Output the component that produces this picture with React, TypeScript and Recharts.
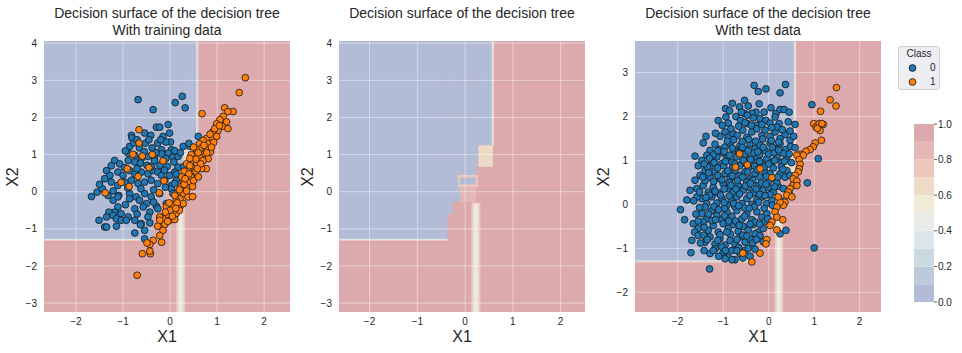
import React from 'react';
import { ScatterChart, Scatter, XAxis, YAxis, ReferenceArea, ReferenceLine, BarChart, Bar } from 'recharts';

// ---------------- data ----------------
const classLabels = ['0', '1'];
const colorbarTicks = [0, 0.2, 0.4, 0.6, 0.8, 1.0];
const colorbarBins = [0.1, 0.1, 0.1, 0.1, 0.1, 0.1, 0.1, 0.1, 0.1, 0.1];

// decision surface: rectangles with predicted probability of class 1
const surfaceCells = [
  { x1: -4, x2: 4, y1: -5, y2: 5, p: 1 },
  { x1: -4, x2: -0.37, y1: -1.3, y2: 5, p: 0 },
  { x1: -0.37, x2: -0.27, y1: -0.6, y2: 5, p: 0 },
  { x1: -0.27, x2: -0.1, y1: -0.27, y2: 5, p: 0 },
  { x1: -0.1, x2: 0.23, y1: 0.45, y2: 5, p: 0 },
  { x1: 0.23, x2: 0.28, y1: 0.67, y2: 5, p: 0 },
  { x1: 0.28, x2: 0.58, y1: 1.25, y2: 5, p: 0 },
  { x1: 0.28, x2: 0.58, y1: 0.67, y2: 1.25, p: 0.65 },
  { x1: -0.15, x2: 0.27, y1: 0.13, y2: 0.45, p: 0.72 },
  { x1: -0.11, x2: 0.22, y1: 0.2, y2: 0.38, p: 0 },
  { x1: -0.1, x2: 0.23, y1: -0.27, y2: 0.13, p: 0.8 },
  { x1: 0.13, x2: 0.32, y1: -5, y2: -0.3, p: 0.75 },
  { x1: 0.16, x2: 0.29, y1: -5, y2: -0.32, p: 0.62 },
  { x1: 0.19, x2: 0.26, y1: -5, y2: -0.35, p: 0.45 },
  { x1: 0.555, x2: 0.58, y1: 1.25, y2: 5, p: 0.3 },
  { x1: 0.58, x2: 0.605, y1: 1.25, y2: 5, p: 0.6 },
  { x1: -4, x2: -0.37, y1: -1.33, y2: -1.3, p: 0.7 },
  { x1: -4, x2: -0.37, y1: -1.3, y2: -1.27, p: 0.3 },
];

const train0 = [
  [-0.68,2.48],[-0.36,2.21],[0.11,2.40],[0.26,2.57],[0.32,2.26],[-0.04,1.81],[-0.29,1.74],[-0.22,1.74],[-0.82,1.52],[-0.81,1.45],[-0.54,1.58],[-0.41,1.52],[-0.15,1.49],[-0.01,1.58],[0.01,1.34],[0.60,1.49],[0.42,1.22],[0.28,1.22],
  [-0.86,1.22],[-0.77,1.31],[-0.65,1.18],[-0.52,1.31],[-0.38,1.18],[-0.26,1.31],[-0.18,1.13],[-0.09,1.34],[0.03,1.13],[-0.04,1.04],
  [-0.89,1.04],[-0.75,0.98],[-0.61,0.89],[-0.47,0.95],[-0.33,0.92],[-0.18,1.02],[-0.09,0.89],[0.06,0.93],[0.17,0.95],
  [-1.18,0.84],[-1.07,0.75],[-0.89,0.84],[-0.75,0.80],[-0.63,0.77],[-0.49,0.71],[-0.33,0.83],[-0.22,0.71],[-0.06,0.68],[0.08,0.80],[0.17,0.66],[0.29,0.68],
  [-1.35,0.57],[-1.28,0.44],[-1.11,0.53],[-1.00,0.44],[-0.86,0.57],[-0.75,0.48],[-0.61,0.53],[-0.47,0.48],[-0.36,0.57],[-0.26,0.53],[-0.18,0.44],[-0.01,0.44],[0.10,0.53],
  [-1.39,0.35],[-1.25,0.26],[-1.11,0.17],[-0.96,0.26],[-0.82,0.31],[-0.68,0.22],[-0.54,0.26],[-0.40,0.31],[-0.26,0.22],[-0.11,0.31],[0.03,0.17],[0.13,0.31],
  [-1.67,-0.13],[-1.55,-0.01],[-1.44,0.08],[-1.32,-0.10],[-1.21,0.02],[-1.09,-0.10],[-0.86,-0.05],[-0.72,-0.14],[-0.54,-0.05],[-0.40,-0.14],[-0.22,-0.05],[0.03,0.08],
  [-1.21,-0.23],[-1.11,-0.14],[-0.86,-0.19],[-0.65,-0.23],[-0.50,-0.32],[-0.29,-0.39],[-0.08,-0.32],
  [-1.11,-0.41],[-1.18,-0.55],[-1.04,-0.59],[-0.75,-0.46],[-0.57,-0.41],[-0.43,-0.55],[-0.26,-0.46],[-0.15,-0.68],
  [-1.30,-0.55],[-1.35,-0.68],[-1.21,-0.64],[-1.14,-0.73],[-1.04,-0.77],[-0.89,-0.68],[-0.75,-0.77],[-0.61,-0.86],[-0.47,-0.68],[-0.43,-0.84],
  [-1.51,-0.77],[-1.39,-0.95],[-1.35,-0.95],[-1.14,-0.93],[-0.93,-0.77],[-0.75,-1.11],[-0.63,-0.89],[-0.54,-1.04],[-0.54,-1.27],[0.13,0.48],[0.10,0.22],[0.06,-0.05],
  [-0.70,1.40],[-0.45,1.40],[-0.20,1.40],[-0.95,1.10],[-0.55,1.08],[-0.30,1.05],[0.10,1.10],[-1.25,0.70],[-0.97,0.65],[-0.70,0.62],[-0.40,0.68],[-0.12,0.58],[-1.50,0.20],[-0.90,0.10],[-0.62,0.08],[-0.35,0.05],[-0.10,0.12],[-0.95,-0.35],[-0.35,-0.28],[-0.70,-0.60],[0.22,1.05],[0.40,1.30],
];

const train1 = [
  [1.60,3.07],[1.47,2.67],[0.68,2.10],[1.16,2.26],[1.34,2.16],[1.23,2.16],
  [1.13,2.03],[1.06,1.94],[0.99,1.83],[1.20,1.88],[1.11,1.76],[1.02,1.65],[1.23,1.70],[0.91,1.61],[0.88,1.47],[0.99,1.49],[0.77,1.43],[0.81,1.29],[0.93,1.33],
  [0.70,1.38],[0.62,1.29],[0.67,1.18],[0.77,1.16],[0.86,1.07],[0.56,1.13],[0.74,1.02],[0.63,0.93],[0.81,0.89],[0.52,0.98],[0.48,0.84],[0.57,0.75],[0.70,0.84],[0.77,0.62],[0.67,0.62],[0.45,0.66],[0.35,0.75],[0.38,0.57],[0.52,0.53],[0.45,0.39],[0.33,0.44],[0.28,0.31],[0.40,0.26],[0.48,0.14],[0.35,0.11],[0.24,0.14],[0.17,-0.01],[0.28,-0.05],[0.38,-0.14],[0.48,-0.13],[0.21,-0.19],[0.13,-0.23],[0.06,-0.37],[0.21,-0.41],[0.28,-0.32],[0.03,-0.55],[0.13,-0.59],[-0.08,-0.41],[-0.04,-0.64],[-0.15,-0.73],[-0.22,-0.68],[-0.22,-0.77],[-0.01,-0.77],[0.10,-0.75],[-0.11,-0.88],[-0.26,-0.93],[-0.15,-1.04],[-0.22,-1.18],[-0.18,-1.36],[-0.36,-1.31],[-0.43,-1.42],[-0.49,-1.38],[-0.59,-1.67],[-0.42,-1.67],[-0.43,-1.60],[-0.70,-2.25],
  [-0.66,1.67],[-0.66,1.31],[-0.79,1.01],[-0.59,0.96],[-0.38,1.00],[-0.91,0.62],[-0.68,0.41],[-0.45,0.65],[-0.15,0.83],[-1.04,0.25],[-0.87,0.14],[-1.38,-0.03],[-0.23,-0.03],[-0.13,0.29],
  [0.30,0.55],[0.42,0.70],[0.55,0.88],[0.60,1.05],[0.50,1.20],[0.72,1.25],[0.85,1.55],[0.95,1.70],[1.05,1.78],[0.40,0.48],[0.50,0.30],[0.30,0.20],[0.20,0.05],[0.10,-0.10],[0.35,0.02],[0.15,-0.30],[0.00,-0.50],[0.05,-0.66],[-0.10,-0.55],[0.20,-0.50],[-0.05,-0.80],[0.55,0.55],[0.60,0.40],[0.25,0.40],[0.45,1.00],[0.78,1.05],[0.88,1.20],[0.65,0.75],[0.58,0.62],[0.42,0.90],[0.32,0.35],[0.12,-0.45],[-0.02,-0.30],
];

const test0 = [
  [-0.32,2.71],[-0.23,2.57],[-0.06,2.63],[0.25,2.54],[0.37,2.73],
  [-0.95,2.18],[-0.86,2.13],[-0.64,2.22],[-0.53,2.37],[-0.45,2.24],[-0.28,2.10],[-0.21,2.29],[-0.53,2.07],[-0.37,2.07],[0.16,2.07],[0.25,2.16],[0.34,2.16],[0.45,2.10],[0.95,2.27],
  [-1.11,1.91],[-0.94,1.99],[-0.89,1.85],[-0.72,2.00],[-0.62,1.91],[-0.47,2.03],[-0.34,1.97],[-0.19,1.95],[-0.06,1.91],[0.03,1.85],[0.14,1.99],[0.23,1.84],[0.43,1.88],[0.58,1.82],[-0.47,1.84],[-0.26,1.80],
  [-1.07,1.55],[-0.96,1.65],[-0.89,1.53],[-0.79,1.62],[-0.69,1.57],[-0.57,1.69],[-0.48,1.53],[-0.37,1.65],[-0.26,1.72],[-0.15,1.57],[-0.08,1.69],[0.03,1.55],[0.14,1.65],[0.25,1.50],[0.36,1.59],[0.47,1.46],[0.18,1.76],[0.47,1.67],
  [-1.44,1.40],[-1.29,1.23],[-1.18,1.37],[-1.08,1.25],[-0.96,1.31],[-0.85,1.38],[-0.74,1.23],[-0.63,1.34],[-0.52,1.25],[-0.41,1.38],[-0.30,1.27],[-0.19,1.34],[-0.08,1.23],[0.03,1.40],[0.14,1.27],[0.25,1.38],[0.38,1.25],[0.48,1.32],[1.09,1.04],[0.58,1.29],
  [-1.47,1.00],[-1.36,1.12],[-1.25,0.96],[-1.14,1.08],[-1.03,0.93],[-0.92,1.04],[-0.81,0.96],[-0.70,1.08],[-0.59,0.93],[-0.48,1.06],[-0.37,0.96],[-0.26,1.08],[-0.15,0.93],[-0.04,1.04],[0.07,0.96],[0.18,1.08],[0.29,0.96],[0.40,1.08],[-1.29,0.87],
  [-1.51,0.66],[-1.40,0.77],[-1.29,0.62],[-1.18,0.74],[-1.07,0.58],[-0.96,0.70],[-0.85,0.58],[-0.74,0.77],[-0.63,0.66],[-0.52,0.74],[-0.41,0.58],[-0.30,0.70],[-0.19,0.62],[-0.08,0.74],[0.03,0.70],[0.14,0.58],[0.25,0.70],[0.36,0.62],[0.40,0.77],[0.47,0.66],
  [-1.73,0.32],[-1.58,0.36],[-1.44,0.43],[-1.33,0.28],[-1.22,0.39],[-1.11,0.26],[-1.00,0.47],[-0.89,0.36],[-0.78,0.28],[-0.67,0.43],[-0.56,0.32],[-0.45,0.39],[-0.34,0.26],[-0.23,0.43],[-0.12,0.32],[-0.01,0.39],[0.10,0.28],[0.21,0.41],[0.85,0.49],[0.32,0.36],
  [-1.47,0.13],[-1.36,0.02],[-1.25,0.17],[-1.14,0.03],[-1.03,0.13],[-0.92,-0.02],[-0.81,0.09],[-0.70,0.17],[-0.59,0.02],[-0.48,0.13],[-0.37,0.00],[-0.26,0.11],[-0.15,0.17],[-0.04,0.02],[0.07,0.09],[-1.40,-0.06],
  [-1.94,-0.12],[-1.47,-0.21],[-1.36,-0.33],[-1.25,-0.14],[-1.14,-0.25],[-1.03,-0.35],[-0.92,-0.17],[-0.81,-0.27],[-0.70,-0.14],[-0.59,-0.33],[-0.48,-0.21],[-0.37,-0.35],[-0.26,-0.17],[-0.15,-0.29],[-0.04,-0.21],
  [-1.66,-0.44],[-1.55,-0.55],[-1.44,-0.40],[-1.33,-0.59],[-1.22,-0.48],[-1.11,-0.63],[-1.00,-0.44],[-0.89,-0.55],[-0.78,-0.46],[-0.67,-0.61],[-0.56,-0.50],[-0.45,-0.59],[-0.34,-0.46],[-0.23,-0.63],[-0.12,-0.55],[-1.63,-0.63],
  [-1.69,-0.82],[-1.55,-0.71],[-1.40,-0.86],[-1.29,-0.74],[-1.18,-0.90],[-1.07,-0.78],[-0.96,-0.93],[-0.85,-0.82],[-0.74,-0.90],[-0.63,-0.74],[-0.52,-0.86],[-0.41,-0.78],[-0.30,-0.67],[0.38,-0.59],[0.25,-0.67],[-0.19,-0.71],
  [-1.71,-1.10],[-1.29,-1.12],[-1.18,-1.01],[-1.00,-1.09],[-0.89,-1.20],[-0.81,-1.05],[-0.74,-1.26],[-0.63,-1.12],[-0.52,-1.05],[-0.41,-1.18],[1.00,-0.99],[-1.22,-1.05],
  [-1.30,-1.47],[-0.96,-1.24],[-0.81,-1.26],
  [-0.91,1.44],[-0.77,1.47],[-0.58,1.43],[-0.44,1.48],[-0.29,1.44],[-0.13,1.49],[0.06,1.45],[0.22,1.42],
  [-1.21,1.13],[-1.00,1.17],[-0.86,1.12],[-0.66,1.18],[-0.53,1.14],[-0.33,1.17],[-0.20,1.13],[0.00,1.15],[0.12,1.18],[0.33,1.16],
  [-1.35,0.86],[-1.12,0.83],[-0.99,0.88],[-0.79,0.85],[-0.64,0.88],[-0.44,0.84],[-0.31,0.87],[-0.10,0.85],[0.10,0.83],[0.28,0.86],
  [-1.40,0.54],[-1.21,0.52],[-1.03,0.56],[-0.86,0.49],[-0.69,0.54],[-0.48,0.51],[-0.35,0.55],[-0.16,0.49],[0.00,0.53],[0.18,0.50],
  [-1.58,0.17],[-1.30,0.21],[-1.06,0.21],[-0.87,0.19],[-0.64,0.24],[-0.42,0.21],[-0.20,0.23],[0.03,0.22],
  [-1.52,-0.07],[-1.20,-0.05],[-0.97,-0.09],[-0.75,-0.04],[-0.53,-0.08],[-0.31,-0.05],[-0.10,-0.09],
  [-1.25,-0.37],[-0.97,-0.26],[-0.73,-0.38],[-0.53,-0.27],[-0.30,-0.40],[-0.08,-0.38],
  [-1.43,-0.70],[-1.07,-0.69],[-0.84,-0.68],[-0.57,-0.70],[-0.35,-0.88],
  [-1.03,-0.97],[-0.66,-0.98],[-0.45,-1.00],
  [-1.17,1.62],[-1.02,1.80],[-0.83,1.72],[-0.66,1.78],[-0.52,1.86],[-0.38,1.80],[-0.15,1.82],[0.07,1.75],[0.30,1.70],[-0.60,2.10],[-0.10,2.10],[0.05,2.20],
  [-1.30,1.05],[-1.12,1.22],[-0.98,1.20],[-0.80,1.28],[-0.58,1.30],[-0.45,1.22],[-0.24,1.20],[-0.12,1.30],[0.08,1.30],[0.22,1.24],[0.45,1.15],
  [-1.55,0.88],[-1.42,0.92],[-1.20,0.95],[-0.95,0.98],[-0.75,0.92],[-0.55,1.00],[-0.40,1.02],[-0.20,0.98],[0.00,0.92],[0.13,1.00],[0.35,0.98],
  [-1.62,0.55],[-1.45,0.62],[-1.32,0.72],[-1.12,0.66],[-0.90,0.76],[-0.80,0.65],[-0.57,0.62],[-0.46,0.74],[-0.25,0.79],[-0.05,0.64],[0.20,0.62],[0.31,0.80],
  [-1.65,0.08],[-1.52,0.28],[-1.38,0.16],[-1.18,0.30],[-0.98,0.35],[-0.83,0.43],[-0.72,0.35],[-0.51,0.42],[-0.40,0.48],[-0.28,0.35],[-0.06,0.46],[0.13,0.40],
  [-1.60,-0.22],[-1.32,-0.22],[-1.10,-0.12],[-0.98,0.04],[-0.77,0.02],[-0.66,-0.03],[-0.43,-0.09],[-0.22,0.05],[-0.08,0.20],[0.08,-0.02],
  [-1.55,-0.38],[-1.42,-0.52],[-1.17,-0.35],[-0.88,-0.38],[-0.65,-0.48],[-0.41,-0.45],[-0.20,-0.45],[-0.02,-0.33],
  [-1.50,-0.88],[-1.35,-0.80],[-1.12,-0.82],[-0.92,-0.63],[-0.70,-0.80],[-0.48,-0.72],[-0.27,-0.80],[-0.12,-0.85],
  [-1.42,-1.05],[-1.10,-1.18],[-0.95,-1.05],[-0.70,-1.05],[-0.57,-1.22],[-0.30,-1.02],
  [-1.80,0.10],[-1.85,-0.35],[-1.62,1.10],[-1.38,1.55],[-0.80,2.30],[0.55,1.55],[0.50,0.95],[0.45,0.25],[0.28,0.08],
];

const test1 = [
  [1.49,2.66],[1.35,2.38],[1.48,2.24],[1.14,2.12],[0.99,1.84],[1.04,1.76],[1.11,1.84],[1.20,1.82],[1.13,1.68],[1.07,1.73],[1.17,1.84],[1.16,1.46],[1.02,1.40],[0.98,1.31],[0.91,1.25],[0.82,1.21],[0.69,1.14],[0.76,1.12],[0.62,1.12],[0.67,1.02],[0.69,0.91],[0.67,0.81],[0.65,0.74],[0.58,0.66],[0.54,0.58],[0.62,0.53],[0.53,0.43],[0.62,0.43],[0.47,0.36],[0.43,0.28],[0.40,0.21],[0.51,0.17],[0.36,0.05],[0.32,-0.02],[0.25,0.05],[0.21,0.17],[0.18,-0.06],[0.14,-0.17],[0.18,-0.29],[0.07,-0.40],[0.03,-0.48],[-0.04,-0.80],[-0.06,-0.90],[-0.19,-1.11],[-0.37,-1.31],[-0.57,-1.11],[-0.64,1.15],[-0.73,0.85],[-0.47,0.90],[-0.19,0.81],[0.07,0.61],[0.31,-0.35],[0.18,-0.58],
];

// ---------------- styling / layout ----------------
const FONT = '"Liberation Sans", Arial, "DejaVu Sans", sans-serif';
const TEXT = '#262626';
const levelColors = ['#B2BCD7', '#BCCADB', '#CBD9E3', '#DCE6EA', '#E9EBE6', '#EFEBD8', '#EEDBC7', '#ECC8BC', '#E5B7B4', '#DCAAAD'];
const classColors = ['#1f77b4', '#ff7f0e'];
const colorFor = (p: number) => levelColors[Math.min(9, Math.floor(p * 10 + 1e-9))];

const panels = [
  { left: 44, top: 41, w: 246, h: 271, xDomain: [-2.68, 2.55], yDomain: [-3.24, 4.06], xTicks: [-2, -1, 0, 1, 2], yTicks: [-3, -2, -1, 0, 1, 2, 3, 4], title: ['Decision surface of the decision tree', 'With training data'], pts: [train0, train1] },
  { left: 339, top: 41, w: 246, h: 271, xDomain: [-2.64, 2.51], yDomain: [-3.24, 4.06], xTicks: [-2, -1, 0, 1, 2], yTicks: [-3, -2, -1, 0, 1, 2, 3, 4], title: ['Decision surface of the decision tree'], pts: [[], []] },
  { left: 635, top: 41, w: 246, h: 271, xDomain: [-2.94, 2.47], yDomain: [-2.45, 3.72], xTicks: [-2, -1, 0, 1, 2], yTicks: [-2, -1, 0, 1, 2, 3], title: ['Decision surface of the decision tree', 'With test data'], pts: [test0, test1] },
];

const fmt = (v: number) => (v < 0 ? '\u2212' + Math.abs(v) : String(v));
const toObj = (arr: number[][]) => arr.map(([x, y]) => ({ x, y }));

const makeDot = (color: string) => (props: any) => (
  <circle cx={props.cx} cy={props.cy} r={3.4} fill={color} stroke="#161616" strokeWidth={0.8} />
);

function Panel({ cfg }: { cfg: any }) {
  const yAxisW = 30;
  const bottom = 353 - cfg.top - cfg.h - 20;
  const tickStyle = { fontSize: 10, fill: TEXT, fontFamily: FONT };
  return (
    <div style={{ position: 'absolute', left: cfg.left - yAxisW, top: 0 }}>
      <ScatterChart width={cfg.w + yAxisW + 4} height={353} margin={{ top: cfg.top, right: 4, bottom, left: 0 }}>
        <XAxis type="number" dataKey="x" domain={cfg.xDomain} ticks={cfg.xTicks} allowDataOverflow height={20}
          axisLine={false} tickLine={false} tickSize={4} tickMargin={2} tick={tickStyle} tickFormatter={fmt} interval={0} />
        <YAxis type="number" dataKey="y" domain={cfg.yDomain} ticks={cfg.yTicks} allowDataOverflow width={yAxisW}
          axisLine={false} tickLine={false} tickSize={4} tickMargin={3} tick={tickStyle} tickFormatter={fmt} interval={0} />
        {surfaceCells.map((c, i) => (
          <ReferenceArea key={'a' + i} x1={c.x1} x2={c.x2} y1={c.y1} y2={c.y2} fill={colorFor(c.p)} fillOpacity={1}
            stroke="none" strokeWidth={0} ifOverflow="hidden" />
        ))}
        {cfg.xTicks.map((t: number) => (
          <ReferenceLine key={'gx' + t} x={t} stroke="#ffffff" strokeOpacity={0.42} strokeWidth={1} />
        ))}
        {cfg.yTicks.map((t: number) => (
          <ReferenceLine key={'gy' + t} y={t} stroke="#ffffff" strokeOpacity={0.42} strokeWidth={1} />
        ))}
        <Scatter data={toObj(cfg.pts[0])} isAnimationActive={false} shape={makeDot(classColors[0])} />
        <Scatter data={toObj(cfg.pts[1])} isAnimationActive={false} shape={makeDot(classColors[1])} />
      </ScatterChart>
    </div>
  );
}

function Colorbar() {
  const row: any = { name: 'cb' };
  colorbarBins.forEach((v, i) => (row['b' + i] = v));
  return (
    <div style={{ position: 'absolute', left: 914, top: 118 }}>
      <BarChart width={50} height={190} data={[row]} margin={{ top: 6, right: 0, bottom: 6, left: 0 }} barCategoryGap={0} barGap={0}>
        <XAxis dataKey="name" hide />
        <YAxis orientation="right" type="number" domain={[0, 1]} ticks={colorbarTicks} width={30} axisLine={false}
          tickLine={{ stroke: '#333', strokeWidth: 0.8 }} tickSize={3} tickMargin={1}
          tick={{ fontSize: 10, fill: TEXT, fontFamily: FONT }} tickFormatter={(v: number) => v.toFixed(1)} interval={0} />
        {colorbarBins.map((_, i) => (
          <Bar key={i} dataKey={'b' + i} stackId="cb" fill={levelColors[i]} isAnimationActive={false} />
        ))}
      </BarChart>
    </div>
  );
}

function LegendBox() {
  return (
    <div style={{ position: 'absolute', left: 898, top: 46, width: 42, height: 44, boxSizing: 'border-box',
      background: '#EDEDF2', border: '1px solid #cfcfcf', borderRadius: 3, fontFamily: FONT, fontSize: 10, color: TEXT }}>
      <div style={{ position: 'absolute', left: 0, width: 40, top: 1, textAlign: 'center', lineHeight: '12px' }}>Class</div>
      {classLabels.map((lab, i) => (
        <div key={lab} style={{ position: 'absolute', left: 0, top: 15 + i * 14, width: 40, height: 12 }}>
          <svg width={16} height={12} style={{ position: 'absolute', left: 6, top: 0 }}>
            <circle cx={7.5} cy={6} r={3.4} fill={classColors[i]} stroke="#161616" strokeWidth={0.8} />
          </svg>
          <span style={{ position: 'absolute', left: 31, top: 0, lineHeight: '12px' }}>{lab}</span>
        </div>
      ))}
    </div>
  );
}

export default function App() {
  return (
    <div style={{ position: 'absolute', left: 0, top: 0, width: 962, height: 353, background: '#ffffff', fontFamily: FONT, color: TEXT, overflow: 'hidden' }}>
      {panels.map((cfg, i) => (
        <React.Fragment key={i}>
          <Panel cfg={cfg} />
          {cfg.title.map((t: string, j: number) => (
            <div key={j} style={{ position: 'absolute', left: cfg.left + cfg.w / 2 - 150, width: 300, top: 5 + j * 17, textAlign: 'center', fontSize: 14, lineHeight: '16px', whiteSpace: 'nowrap' }}>{t}</div>
          ))}
          <div style={{ position: 'absolute', left: cfg.left + cfg.w / 2 - 30, width: 60, top: 328, textAlign: 'center', fontSize: 16, lineHeight: '18px' }}>X1</div>
          <div style={{ position: 'absolute', left: cfg.left - 31 - 30, width: 60, top: 177 - 9, textAlign: 'center', fontSize: 16, lineHeight: '18px', transform: 'rotate(-90deg)' }}>X2</div>
        </React.Fragment>
      ))}
      <LegendBox />
      <Colorbar />
    </div>
  );
}
